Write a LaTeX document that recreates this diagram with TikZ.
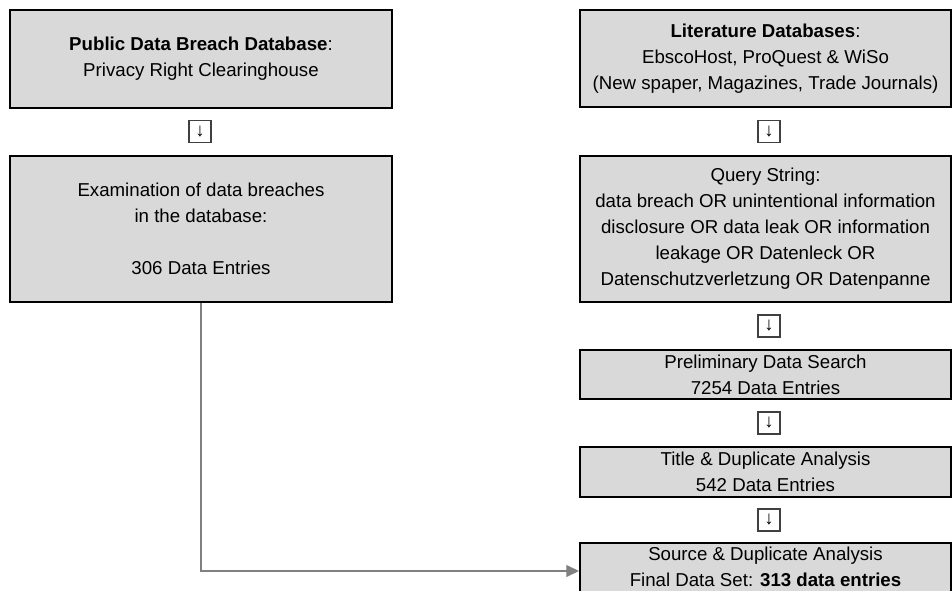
\documentclass[tikz,border=0pt]{standalone}
\usepackage{fontspec}
\setmainfont{Liberation Sans}
\usetikzlibrary{arrows.meta}
\definecolor{boxgray}{RGB}{217,217,217}
\definecolor{linkgray}{RGB}{128,128,128}
\definecolor{markgray}{RGB}{64,64,64}
\tikzset{
  srcbox/.style={draw=black, line width=1.6pt, fill=boxgray, align=center,
    inner sep=2pt, font=\fontsize{14}{19.5}\selectfont},
  leftbox/.style={srcbox, minimum width=286.5pt},
  rightbox/.style={srcbox, minimum width=278.25pt},
  nextmark/.style={draw=markgray, line width=1pt, fill=white,
    minimum size=16.5pt, inner sep=0pt, font=\fontsize{14}{14}\selectfont},
  link/.style={draw=linkgray, line width=0.8pt, -{Triangle[length=9.5pt,width=9pt]}}
}
\begin{document}
\begin{tikzpicture}[x=0.75pt,y=-0.75pt]
  \useasboundingbox (0,0) rectangle (952,591);
  \clip (0,0) rectangle (952,591);

  % Datenbank links
  \node[leftbox, minimum height=73.5pt] (pubdb) at (201,59)
    {\textbf{Public Data Breach Database}:\\Privacy Right Clearinghouse};
  \node[nextmark] (markl) at (200,131.5) {↓};
  \node[leftbox, minimum height=109.5pt] (exam) at (201,229)
    {Examination of data breaches\\in the database:\\[19.5pt]306 Data Entries};

  % Literatursuche rechts
  \node[rightbox, minimum height=72.75pt] (litdb) at (765.5,58.5)
    {\textbf{Literature Databases}:\\EbscoHost, ProQuest \& WiSo\\(New spaper, Magazines, Trade Journals)};
  \node[nextmark] (markra) at (769,131.5) {↓};
  \node[rightbox, minimum height=109.5pt] (query) at (765.5,229)
    {Query String:\\data breach OR unintentional information\\disclosure OR data leak OR information\\leakage OR Datenleck OR\\Datenschutzverletzung OR Datenpanne};
  \node[nextmark] (markrb) at (769,326) {↓};
  \node[rightbox, minimum height=36.75pt] (prelim) at (765.5,374.5)
    {Preliminary Data Search\\7254 Data Entries};
  \node[nextmark] (markrc) at (769,423) {↓};
  \node[rightbox, minimum height=37.5pt] (title) at (765.5,472)
    {Title \& Duplicate Analysis\\542 Data Entries};
  \node[nextmark] (markrd) at (769,520) {↓};
  \node[rightbox, minimum height=42pt, text depth=6pt] (final) at (765.5,571)
    {Source \& Duplicate Analysis\\Final Data Set: \textbf{313 data entries}};

  % Verbindung
  \draw[link] (exam.south) |- (final.west);
\end{tikzpicture}
\end{document}
